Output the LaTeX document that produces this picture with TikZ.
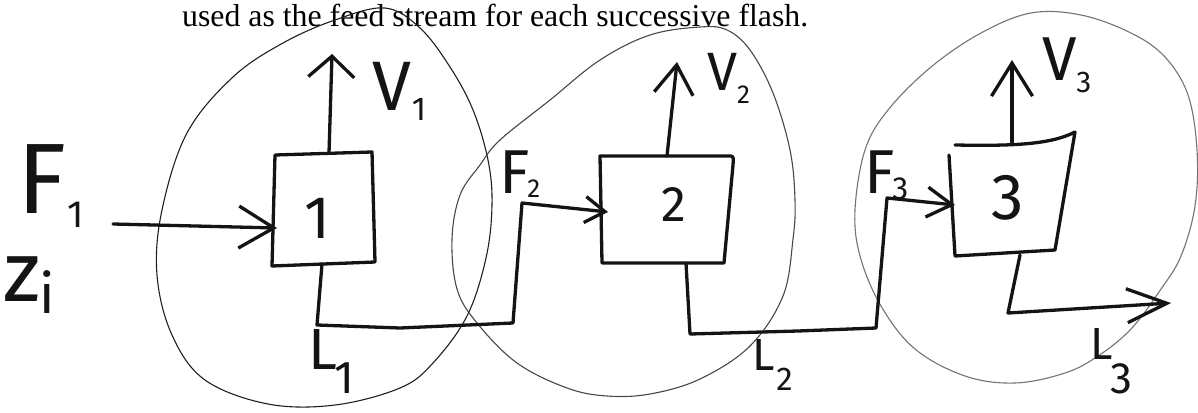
\documentclass[tikz,border=0pt]{standalone}
\usepackage{fontspec}
\setmainfont{Liberation Serif}
\newfontfamily\handfont{Fira Sans}
\usetikzlibrary{arrows.meta}

% handwritten label: size, letter, kern before subscript, subscript size, drop, subscript
\newcommand\hw[6]{{\handfont\fontsize{#1}{#1}\selectfont #2\hspace{#3pt}\raisebox{-#5pt}{\fontsize{#4}{#4}\selectfont #6}}}

\begin{document}
\begin{tikzpicture}[x=1pt,y=-1pt,
  marker/.style={line width=3.3pt, line join=round, line cap=round, draw=black!92},
  pen/.style={line width=1.1pt, draw=black!#1},
  barb/.style 2 args={-{Straight Barb[length=#1pt,width=#2pt]}},
  lbl/.style={inner sep=0pt, outer sep=0pt, anchor=base west, text=black!92},
  num/.style={inner sep=0pt, outer sep=0pt, anchor=center, text=black!92, font=\handfont\fontsize{#1}{#1}\selectfont}]
\useasboundingbox (0,0) rectangle (1198,412);

% caption line from the text above
\node[anchor=base west, inner sep=0pt, font=\fontsize{31.8}{36}\selectfont] (caption) at (182,27)
  {used as the feed stream for each successive flash.};

% boundaries drawn round each flash stage
\draw[pen=88] plot[smooth cycle, tension=0.6] coordinates {
  (385,8) (420,28) (450,67) (473,110) (488,160) (492,205) (486,258) (467,316)
  (433,363) (400,388) (335,405) (268,404) (205,380) (172,335) (157,275)
  (162,210) (187,133) (233,77) (283,43) (335,20)};
\draw[pen=72] plot[smooth cycle, tension=0.6] coordinates {
  (452,239) (460,195) (480,165) (500,140) (550,100) (600,60) (650,35) (700,27)
  (727,30) (750,50) (773,93) (790,150) (795,200) (793,239) (783,296) (750,346)
  (700,379) (650,394) (607,396) (567,388) (517,363) (477,323) (457,289)};
\draw[pen=55] plot[smooth cycle, tension=0.6] coordinates {
  (855,210) (865,150) (888,110) (931,67) (981,33) (1031,13) (1081,15) (1131,33)
  (1165,57) (1188,95) (1197,150) (1195,206) (1181,256) (1161,289) (1131,329)
  (1098,356) (1065,373) (1015,383) (965,376) (915,349) (881,306) (860,256)};

% flash drums
\draw[marker] (275,155) -- (372,152) -- (375,262) -- (272,266) -- cycle;
\draw[marker] (600,156) -- (731,156) to[out=-5,in=90] (733,165) -- (724,263) -- (602,263) -- cycle;
\draw[marker] (955,145) .. controls (1010,146) and (1050,145) .. (1075,132)
  -- (1055,250) -- (955,256) -- (949,155);

\node[num=60] (n1) at (317,218) {1};
\node[num=50] (n2) at (674,205) {2};
\node[num=65] (n3) at (1008,198) {3};

% stream end points
\coordinate (feed) at (113,224);
\coordinate (b1in) at (277,228);
\coordinate (b1top) at (329,153);
\coordinate (b1bot) at (322,264);
\coordinate (v1end) at (332,54);
\coordinate (b2in) at (608,212);
\coordinate (b2top) at (667,156);
\coordinate (b2bot) at (686,263);
\coordinate (v2end) at (677,62);
\coordinate (b3in) at (955,205);
\coordinate (b3top) at (1012,142);
\coordinate (b3bot) at (1020,255);
\coordinate (v3end) at (1012,60);
\coordinate (l3end) at (1171,303);

% streams
\draw[marker, barb={35}{42}] (feed) -- (b1in);
\draw[marker, barb={21}{46}] (b1top) -- (v1end);
\draw[marker, barb={20}{26}] (b1bot) -- (317,325) -- (400,328) -- (513,323) -- (522,203) -- (b2in);
\draw[marker, barb={29}{39}] (b2top) -- (v2end);
\draw[marker, barb={25}{30}] (b2bot) -- (690,334) -- (798,331) -- (876,328) -- (887,198) -- (b3in);
\draw[marker, barb={33}{41}] (b3top) -- (v3end);
\draw[marker, barb={40}{34}] (b3bot) -- (1008,313) -- (l3end);

% stream labels
\node[lbl] (lF1) at (17,213) {\hw{100}{F}{1}{38}{14}{1}};
\node[lbl] (lz) at (4,301) {\hw{85}{z}{-2}{55}{12}{i}};
\node[lbl] (lV1) at (372,110) {\hw{70}{V}{1}{33}{10}{1}};
\node[lbl] (lV2) at (707,90) {\hw{54}{V}{0}{26}{13}{2}};
\node[lbl] (lV3) at (1042,80) {\hw{62}{V}{0}{30}{13}{3}};
\node[lbl] (lF2) at (499,193) {\hw{62}{F}{-2}{26}{4}{2}};
\node[lbl] (lF3) at (864,193) {\hw{62}{F}{-2}{32}{6}{3}};
\node[lbl] (lL1) at (308,369) {\hw{58}{L}{-2}{46}{24}{1}};
\node[lbl] (lL2) at (752,370) {\hw{45}{L}{2}{33}{20}{2}};
\node[lbl] (lL3) at (1090,359) {\hw{45}{L}{-2}{44}{34}{3}};
\end{tikzpicture}
\end{document}
